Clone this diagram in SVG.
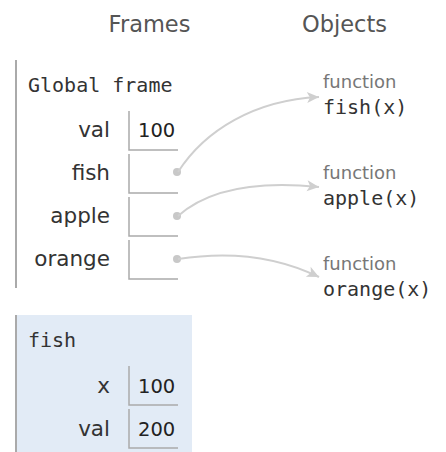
<svg xmlns="http://www.w3.org/2000/svg" width="446" height="452" viewBox="0 0 446 452">
<style>
.hdr{font-family:"DejaVu Sans",sans-serif;font-size:22.5px;fill:#555;text-anchor:middle}
.mono{font-family:"DejaVu Sans Mono",monospace;font-size:20px;fill:#333}
.lbl{font-family:"DejaVu Sans",sans-serif;font-size:21.5px;fill:#333;text-anchor:end}
.val{font-family:"DejaVu Sans",sans-serif;font-size:19.5px;fill:#222}
.fn{font-family:"DejaVu Sans",sans-serif;font-size:18px;fill:#777}
.box{fill:none;stroke:#aaa;stroke-width:1.5}
.bar{stroke:#aaa;stroke-width:2}
.dot{fill:#c8c8c8}
.arr{fill:none;stroke:#cfcfcf;stroke-width:2;marker-end:url(#ah)}
</style>
<defs>
<marker id="ah" markerUnits="userSpaceOnUse" markerWidth="16" markerHeight="14" refX="13" refY="7" orient="auto">
<path d="M1,1.5 L13,7 L1,12.5 L4,7 Z" fill="#cfcfcf"/>
</marker>
</defs>
<rect width="446" height="452" fill="#fff"/>
<text class="hdr" x="149.5" y="32">Frames</text>
<text class="hdr" x="344.5" y="32">Objects</text>

<g id="global-frame">
<line class="bar" x1="16" y1="60" x2="16" y2="288"/>
<text class="mono" x="28" y="92">Global frame</text>
<text class="lbl" x="110" y="137">val</text>
<path class="box" d="M129,111 V150 H178"/>
<text class="val" x="138" y="137">100</text>
<text class="lbl" x="110" y="180">fish</text>
<path class="box" d="M129,154 V193 H178"/>
<circle class="dot" cx="177" cy="172" r="4"/>
<text class="lbl" x="110" y="223">apple</text>
<path class="box" d="M129,197 V236 H178"/>
<circle class="dot" cx="177" cy="216" r="4"/>
<text class="lbl" x="110" y="266">orange</text>
<path class="box" d="M129,240 V279 H178"/>
<circle class="dot" cx="177" cy="259" r="4"/>
</g>

<g id="fish-frame">
<rect x="15" y="315" width="177" height="137" fill="#e2ebf6"/>
<line class="bar" x1="16" y1="315" x2="16" y2="452"/>
<text class="mono" x="28" y="347">fish</text>
<text class="lbl" x="110" y="393">x</text>
<path class="box" d="M129,366 V405 H178"/>
<text class="val" x="138" y="393">100</text>
<text class="lbl" x="110" y="436">val</text>
<path class="box" d="M129,409 V448 H178"/>
<text class="val" x="138" y="436">200</text>
</g>

<g id="obj-fish">
<text class="fn" x="323" y="88">function</text>
<text class="mono" x="323" y="114">fish(x)</text>
</g>
<g id="obj-apple">
<text class="fn" x="323" y="179">function</text>
<text class="mono" x="323" y="205">apple(x)</text>
</g>
<g id="obj-orange">
<text class="fn" x="323" y="270">function</text>
<text class="mono" x="323" y="296">orange(x)</text>
</g>

<g id="connectors">
<path class="arr" d="M178,172 C205,130 255,100 319,97"/>
<path class="arr" d="M178,216 C205,192 250,180 319,187"/>
<path class="arr" d="M178,259 C235,250 280,258 319,277"/>
</g>
</svg>
